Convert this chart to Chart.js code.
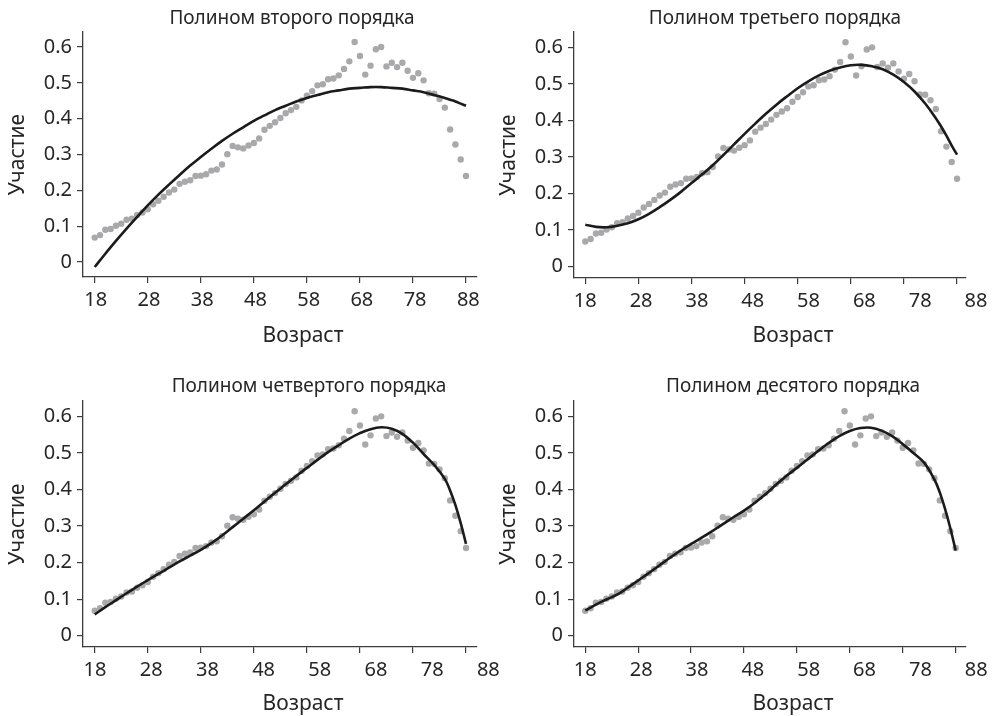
<!DOCTYPE html>
<html>
<head>
<meta charset="utf-8">
<script src="https://cdn.jsdelivr.net/npm/chart.js@4.4.1/dist/chart.umd.min.js"></script>
<style>
  body { margin: 0; background: #fff; }
  #wrap { position: relative; width: 992px; height: 716px; overflow: hidden; }
  #wrap canvas { position: absolute; }
</style>
</head>
<body>
<div id="wrap">
  <canvas id="p1" width="496" height="358" style="left:0;top:0"></canvas>
  <canvas id="p2" width="496" height="358" style="left:496px;top:0"></canvas>
  <canvas id="p3" width="506" height="358" style="left:0;top:358px"></canvas>
  <canvas id="p4" width="496" height="358" style="left:496px;top:358px"></canvas>
</div>
<script>
// возраст и доля участия
const ages = [18, 19, 20, 21, 22, 23, 24, 25, 26, 27, 28, 29, 30, 31, 32, 33, 34, 35, 36, 37,
  38, 39, 40, 41, 42, 43, 44, 45, 46, 47, 48, 49, 50, 51, 52, 53, 54, 55, 56, 57,
  58, 59, 60, 61, 62, 63, 64, 65, 66, 67, 68, 69, 70, 71, 72, 73, 74, 75, 76, 77,
  78, 79, 80, 81, 82, 83, 84, 85, 86, 87, 88];
const participation = [0.068, 0.075, 0.090, 0.092, 0.101, 0.107, 0.118, 0.121, 0.131, 0.138,
  0.147, 0.161, 0.171, 0.182, 0.194, 0.202, 0.218, 0.224, 0.228, 0.240,
  0.241, 0.245, 0.255, 0.258, 0.272, 0.301, 0.324, 0.320, 0.317, 0.325,
  0.332, 0.345, 0.369, 0.380, 0.390, 0.402, 0.415, 0.424, 0.433, 0.451,
  0.464, 0.477, 0.493, 0.496, 0.510, 0.512, 0.521, 0.539, 0.560, 0.614,
  0.575, 0.523, 0.548, 0.594, 0.600, 0.546, 0.556, 0.544, 0.556, 0.534,
  0.514, 0.527, 0.507, 0.471, 0.470, 0.455, 0.431, 0.370, 0.328, 0.286, 0.240];

// узлы подобранных кривых
const fitAges = [18, 20, 22, 24, 26, 28, 30, 32, 34, 36, 38, 40, 42, 44, 46, 48, 50, 52, 54,
  56, 58, 60, 62, 64, 66, 68, 70, 72, 74, 76, 78, 80, 82, 84, 85, 86, 87, 88];
const fit2 = [-0.014, 0.023, 0.059, 0.093, 0.126, 0.158, 0.188, 0.216, 0.243, 0.269, 0.293,
  0.316, 0.338, 0.358, 0.376, 0.394, 0.409, 0.424, 0.436, 0.448, 0.458, 0.466, 0.474,
  0.479, 0.484, 0.486, 0.488, 0.488, 0.486, 0.484, 0.479, 0.474, 0.466, 0.458, 0.453,
  0.448, 0.442, 0.436];
const fit3 = [0.114, 0.108, 0.107, 0.111, 0.118, 0.129, 0.144, 0.162, 0.182, 0.204, 0.228,
  0.252, 0.277, 0.305, 0.334, 0.363, 0.391, 0.418, 0.443, 0.466, 0.488, 0.507, 0.523,
  0.536, 0.545, 0.551, 0.552, 0.548, 0.540, 0.525, 0.505, 0.479, 0.446, 0.406, 0.383,
  0.358, 0.331, 0.306];
const fit4 = [0.058, 0.078, 0.097, 0.116, 0.134, 0.152, 0.169, 0.186, 0.203, 0.219, 0.235,
  0.253, 0.274, 0.297, 0.320, 0.343, 0.367, 0.391, 0.414, 0.437, 0.459, 0.481, 0.502,
  0.521, 0.539, 0.554, 0.565, 0.570, 0.566, 0.552, 0.528, 0.497, 0.467, 0.429, 0.397,
  0.357, 0.308, 0.251];
const fit10 = [0.069, 0.085, 0.099, 0.112, 0.131, 0.151, 0.171, 0.192, 0.213, 0.233, 0.251,
  0.268, 0.286, 0.305, 0.324, 0.342, 0.363, 0.386, 0.412, 0.437, 0.459, 0.482, 0.505,
  0.527, 0.546, 0.560, 0.568, 0.569, 0.561, 0.546, 0.524, 0.500, 0.474, 0.427, 0.392,
  0.347, 0.294, 0.233];

const xTicks = [18, 28, 38, 48, 58, 68, 78, 88];
const yTicks = [0, 0.1, 0.2, 0.3, 0.4, 0.5, 0.6];
const titles = ['Полином второго порядка', 'Полином третьего порядка',
  'Полином четвертого порядка', 'Полином десятого порядка'];
const xTitle = 'Возраст';
const yTitle = 'Участие';

const FONT = "'Noto Sans', sans-serif";
const TEXT = '#262626';
const AXIS = '#3c3c3c';

// заголовок панели и подпись оси X рисуются отдельно
const panelText = {
  id: 'panelText',
  afterDraw(chart, args, opts) {
    const ctx = chart.ctx;
    ctx.save();
    ctx.fillStyle = TEXT;
    ctx.textAlign = 'center';
    ctx.textBaseline = 'alphabetic';
    ctx.font = '19px ' + FONT;
    ctx.fillText(opts.title, opts.titleX, opts.titleY);
    ctx.font = '21px ' + FONT;
    ctx.fillText(xTitle, opts.xTitleX, opts.xTitleY);
    ctx.restore();
  }
};

function setTicks(list) {
  return scale => { scale.ticks = list.map(v => ({ value: v })); };
}

function makePanel(id, p) {
  new Chart(document.getElementById(id), {
    type: 'scatter',
    data: {
      datasets: [
        {
          type: 'line',
          data: fitAges.map((a, i) => ({ x: a, y: p.fit[i] })),
          xAxisID: 'x', yAxisID: 'y',
          borderColor: '#1b1b1b',
          borderWidth: 2.6,
          pointRadius: 0,
          tension: 0.4,
          fill: false,
          order: 0
        },
        {
          data: ages.map((a, i) => ({ x: a, y: participation[i] })),
          xAxisID: 'x', yAxisID: 'y',
          backgroundColor: '#a9a9ac',
          borderWidth: 0,
          pointRadius: 3.2,
          order: 1
        }
      ]
    },
    options: {
      responsive: false,
      animation: false,
      devicePixelRatio: 1,
      layout: { autoPadding: false, padding: { left: 0, top: p.top, right: p.right, bottom: 0 } },
      plugins: {
        legend: { display: false },
        tooltip: { enabled: false },
        panelText: p.text
      },
      scales: {
        x: {
          type: 'linear', position: 'bottom', weight: 0,
          min: p.xMin, max: p.xMax,
          afterBuildTicks: setTicks(xTicks),
          afterFit: s => { s.height = 6; },
          ticks: { display: false },
          grid: { drawOnChartArea: false, drawTicks: true, tickLength: 6, color: AXIS, lineWidth: 1.2 },
          border: { display: true, color: AXIS, width: 1.3 }
        },
        xl: {
          type: 'linear', position: 'bottom', weight: 1,
          min: p.lblMin, max: p.lblMax,
          afterBuildTicks: setTicks(xTicks),
          afterFit: s => { s.height = 358 - p.bottom - 6; },
          grid: { display: false, drawTicks: false },
          border: { display: false },
          ticks: {
            font: { family: FONT, size: 20 }, color: TEXT, padding: 5,
            maxRotation: 0, minRotation: 0, autoSkip: false,
            callback: v => String(v)
          }
        },
        y: {
          type: 'linear', position: 'left',
          min: p.yMin, max: 0.642,
          afterBuildTicks: setTicks(yTicks),
          afterFit: s => { s.width = p.left; },
          ticks: {
            font: { family: FONT, size: 20 }, color: TEXT, padding: 5,
            callback: v => (v === 0 ? '0' : v.toFixed(1))
          },
          grid: { drawOnChartArea: false, drawTicks: true, tickLength: 6, color: AXIS, lineWidth: 1.2 },
          border: { display: true, color: AXIS, width: 1.3 },
          title: {
            display: true, text: yTitle, color: TEXT,
            font: { family: FONT, size: 21 },
            padding: { top: p.yTitleX - 12.6, bottom: 0 }
          }
        }
      }
    },
    plugins: [panelText]
  });
}

makePanel('p1', {
  fit: fit2, left: 83, top: 32, right: 19, bottom: 277,
  xMin: 15.79, xMax: 90.07, lblMin: 15.61, lblMax: 89.63, yMin: -0.042, yTitleX: 18,
  text: { title: titles[0], titleX: 292, titleY: 24, xTitleX: 303, xTitleY: 342 }
});
makePanel('p2', {
  fit: fit3, left: 78, top: 32, right: 26, bottom: 278,
  xMin: 15.87, xMax: 89.69, lblMin: 15.98, lblMax: 86.21, yMin: -0.032, yTitleX: 13.3,
  text: { title: titles[1], titleX: 279, titleY: 24, xTitleX: 297, xTitleY: 342 }
});
makePanel('p3', {
  fit: fit4, left: 83, top: 43, right: 29, bottom: 289,
  xMin: 15.79, xMax: 90.07, lblMin: 15.86, lblMax: 85.98, yMin: -0.031, yTitleX: 18,
  text: { title: titles[2], titleX: 309, titleY: 34, xTitleX: 303, xTitleY: 352 }
});
makePanel('p4', {
  fit: fit10, left: 78, top: 43, right: 25, bottom: 289,
  xMin: 15.87, xMax: 89.88, lblMin: 15.98, lblMax: 86.09, yMin: -0.031, yTitleX: 13.3,
  text: { title: titles[3], titleX: 297, titleY: 34, xTitleX: 297, xTitleY: 352 }
});
</script>
</body>
</html>
